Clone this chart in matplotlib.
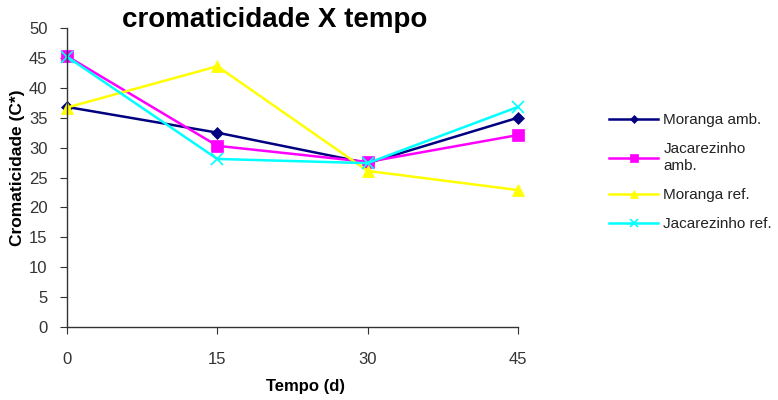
import matplotlib
matplotlib.use("Agg")
import matplotlib.pyplot as plt

plt.rcParams['font.family'] = ['Liberation Sans', 'DejaVu Sans']

tempo = [0, 15, 30, 45]
moranga_amb = [36.8, 32.5, 27.4, 35.0]
jacarezinho_amb = [45.3, 30.3, 27.6, 32.1]
moranga_ref = [36.7, 43.6, 26.1, 22.9]
jacarezinho_ref = [45.2, 28.1, 27.4, 36.8]

labels = ["Moranga amb.", "Jacarezinho\namb.", "Moranga ref.", "Jacarezinho ref."]
colors = ["#000080", "#FF00FF", "#FFFF00", "#00FFFF"]
markers = ["D", "s", "^", "x"]
msizes = [6, 8, 9, 9]
series = [moranga_amb, jacarezinho_amb, moranga_ref, jacarezinho_ref]

fig = plt.figure(figsize=(7.78, 4.0), dpi=100)
ax = fig.add_axes([67/778, 1-327/400, (518-67)/778, (327-28)/400])

for vals, c, m, ms, lab in zip(series, colors, markers, msizes, labels):
    ax.plot(tempo, vals, color=c, marker=m, markersize=ms, linewidth=1.8,
            label=lab, markeredgewidth=1.2 if m == "x" else 0.5,
            markeredgecolor=c)

ax.set_xlim(0, 45)
ax.set_ylim(0, 50)
ax.set_xticks(tempo)
ax.set_yticks(range(0, 51, 5))
ax.spines['top'].set_visible(False)
ax.spines['right'].set_visible(False)
for s in ['left', 'bottom']:
    ax.spines[s].set_color('#333333')
    ax.spines[s].set_linewidth(1.0)
ax.tick_params(axis='both', direction='out', length=5, color='#333333',
               labelsize=12, labelcolor='#333333')
ax.tick_params(axis='x', pad=13)
ax.tick_params(axis='y', pad=9)
for l in ax.get_lines():
    l.set_clip_on(False)

fig.text(275/778, 1-20/400, "cromaticidade X tempo", ha='center', va='center',
         fontsize=20, fontweight='bold')
fig.text(18/778, 1-168/400, "Cromaticidade (C*)", ha='center', va='center',
         rotation=90, fontsize=12.5, fontweight='bold')
fig.text(305/778, 1-387/400, "Tempo (d)", ha='center', va='center',
         fontsize=12, fontweight='bold')

leg = ax.legend(loc='upper left', bbox_to_anchor=(603/778, 1-107/400),
                bbox_transform=fig.transFigure, frameon=False, fontsize=11,
                handlelength=3.2, handletextpad=0.35, labelspacing=1.0,
                borderaxespad=0, markerscale=0.7)
for t in leg.get_texts():
    t.set_color('#222222')

fig.savefig("out.png", dpi=100, facecolor='white')
